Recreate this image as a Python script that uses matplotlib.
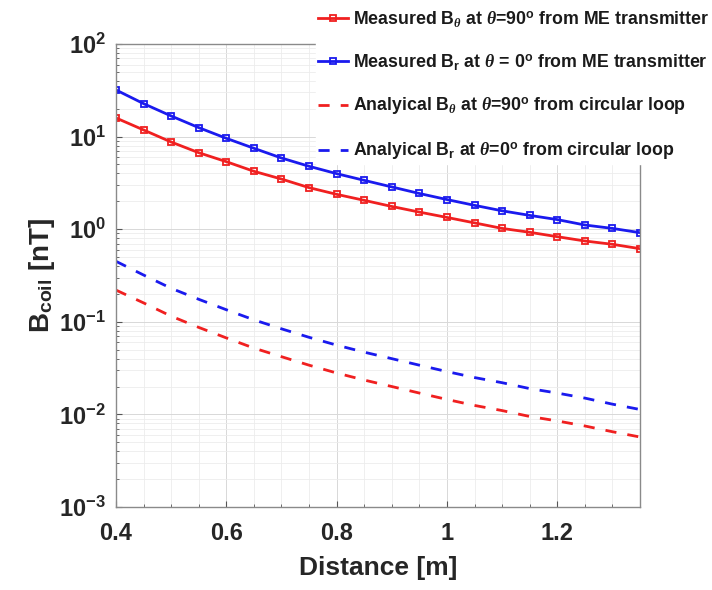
#!/usr/bin/env python3

import matplotlib
matplotlib.use("Agg")
import matplotlib.pyplot as plt
from matplotlib.ticker import FixedLocator, FixedFormatter, LogLocator, NullFormatter

plt.rcParams["font.family"] = ["Liberation Sans", "DejaVu Sans"]
plt.rcParams["font.weight"] = "bold"
plt.rcParams["mathtext.fontset"] = "custom"
plt.rcParams["mathtext.rm"] = "Liberation Sans:bold"
plt.rcParams["mathtext.bf"] = "Liberation Sans:bold"
plt.rcParams["mathtext.it"] = "Liberation Serif:italic"

# Data
distance = [0.40, 0.45, 0.50, 0.55, 0.60, 0.65, 0.70, 0.75, 0.80, 0.85,
            0.90, 0.95, 1.00, 1.05, 1.10, 1.15, 1.20, 1.25, 1.30, 1.35]
meas_b_theta = [15.9, 11.8, 8.74, 6.70, 5.36, 4.22, 3.48, 2.81, 2.38, 2.05,
                1.76, 1.53, 1.34, 1.17, 1.02, 0.926, 0.830, 0.746, 0.687, 0.616]
meas_b_r = [31.9, 22.7, 16.7, 12.5, 9.58, 7.48, 5.87, 4.78, 3.98, 3.37,
            2.86, 2.43, 2.09, 1.81, 1.58, 1.41, 1.27, 1.11, 1.02, 0.917]
ana_b_theta = [0.22, 0.16, 0.115, 0.087, 0.067, 0.052, 0.042, 0.034, 0.028, 0.0235,
               0.020, 0.017, 0.0145, 0.0125, 0.011, 0.0095, 0.0085, 0.0075, 0.0065, 0.0057]
ana_b_r = [0.45, 0.32, 0.23, 0.175, 0.135, 0.105, 0.084, 0.068, 0.056, 0.047,
           0.040, 0.034, 0.029, 0.025, 0.022, 0.019, 0.017, 0.015, 0.0129, 0.0113]

x_ticks = [0.4, 0.6, 0.8, 1.0, 1.2]
x_tick_labels = ["0.4", "0.6", "0.8", "1", "1.2"]
y_ticks = [1e-3, 1e-2, 1e-1, 1e0, 1e1, 1e2]
y_tick_labels = [r"$\mathbf{10^{-3}}$", r"$\mathbf{10^{-2}}$", r"$\mathbf{10^{-1}}$",
                 r"$\mathbf{10^{0}}$", r"$\mathbf{10^{1}}$", r"$\mathbf{10^{2}}$"]

labels = [
  r"Measured B$_{\theta}$ at $\theta$=90$^{\mathbf{o}}$ from ME transmitter",
  r"Measured B$_{\mathbf{r}}$ at $\theta$ = 0$^{\mathbf{o}}$ from ME transmitter",
  r"Analyical B$_{\theta}$ at $\theta$=90$^{\mathbf{o}}$ from circular loop",
  r"Analyical B$_{\mathbf{r}}$ at $\theta$=0$^{\mathbf{o}}$ from circular loop",
]

red = "#f02020"
blue = "#1a1aee"

fig = plt.figure(figsize=(7.12, 5.9), dpi=100)
ax = fig.add_axes([116 / 712, 1 - 507 / 590, (640 - 116) / 712, (507 - 44) / 590])

ax.plot(distance, meas_b_theta, color=red, lw=2, marker="s", ms=5,
        mfc="none", mew=1.3, label=labels[0])
ax.plot(distance, meas_b_r, color=blue, lw=2, marker="s", ms=5,
        mfc="none", mew=1.3, label=labels[1])
ax.plot(distance, ana_b_theta, color=red, lw=2, ls=(0, (4, 4)), label=labels[2])
ax.plot(distance, ana_b_r, color=blue, lw=2, ls=(0, (4, 4)), label=labels[3])

ax.set_yscale("log")
ax.set_xlim(0.4, 1.35)
ax.set_ylim(1e-3, 1e2)

ax.xaxis.set_major_locator(FixedLocator(x_ticks))
ax.xaxis.set_major_formatter(FixedFormatter(x_tick_labels))
ax.set_xticks([0.4 + 0.05 * i for i in range(20)], minor=True)
ax.yaxis.set_major_locator(FixedLocator(y_ticks))
ax.yaxis.set_major_formatter(FixedFormatter(y_tick_labels))
ax.yaxis.set_minor_locator(LogLocator(base=10, subs=range(2, 10), numticks=20))
ax.yaxis.set_minor_formatter(NullFormatter())

ax.tick_params(which="both", direction="in", colors="#555555", labelcolor="#262626",
               labelsize=17, pad=7)
ax.tick_params(axis="x", which="major", pad=11)
ax.tick_params(which="major", length=4)
ax.tick_params(which="minor", length=2)
ax.grid(True, which="major", color="#d8d8d8", lw=0.7)
ax.grid(True, which="minor", color="#ececec", lw=0.6)
for s in ax.spines.values():
  s.set_color("#8a8a8a")
  s.set_linewidth(1.0)

ax.set_xlabel("Distance [m]", fontsize=19, fontweight="bold", color="#262626", labelpad=8)
ax.set_ylabel(r"B$_{\mathbf{coil}}$ [nT]", fontsize=20, fontweight="bold",
              color="#262626", labelpad=2)

leg = fig.legend(loc="upper left", bbox_to_anchor=(316 / 712, 0.988), fontsize=12.8,
                 frameon=True, fancybox=False, framealpha=1, edgecolor="white",
                 handlelength=1.7, handletextpad=0.3, labelspacing=1.32,
                 borderpad=0.1, borderaxespad=0.0)
for t in leg.get_texts():
  t.set_color("#1a1a1a")

fig.savefig("out.png", dpi=100)
